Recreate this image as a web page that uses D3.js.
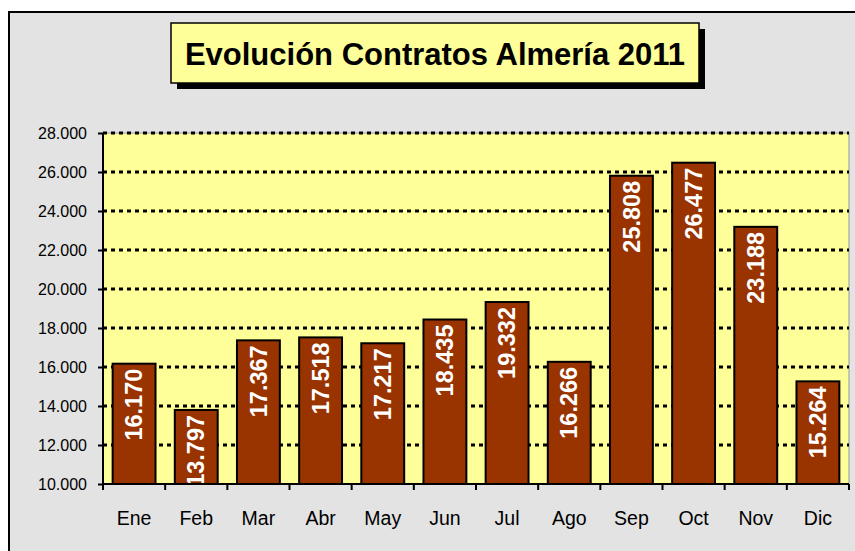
<!DOCTYPE html>
<html lang="es">
<head>
<meta charset="UTF-8">
<title>Evolución Contratos Almería 2011</title>
<script src="https://d3js.org/d3.v7.min.js"></script>
<style>
  body { margin: 0; background: #fff; }
  svg { display: block; font-family: "Liberation Sans", Arial, sans-serif; }
  .axis path { display: none; }
  .axis line { stroke: #000; }
  .y.axis text { font-size: 16px; fill: #000; }
  .x.axis text { font-size: 19.5px; fill: #000; }
  .grid line { stroke: #000; stroke-width: 3; stroke-dasharray: 4,4; }
  .bar { fill: #993300; stroke: #000; stroke-width: 2; }
  .label { fill: #fff; font-size: 23.5px; font-weight: bold; }
</style>
</head>
<body>
<script>

var months = ["Ene", "Feb", "Mar", "Abr", "May", "Jun", "Jul", "Ago", "Sep", "Oct", "Nov", "Dic"];
var contratos = [16170, 13797, 17367, 17518, 17217, 18435, 19332, 16266, 25808, 26477, 23188, 15264];
var yTicks = [10000, 12000, 14000, 16000, 18000, 20000, 22000, 24000, 26000, 28000];
var title = "Evolución Contratos Almería 2011";

var W = 855, H = 551;
var margin = {top: 133, right: 6, bottom: 67, left: 103},
    width = W - margin.left - margin.right,
    height = H - margin.top - margin.bottom;

var es = d3.formatLocale({decimal: ",", thousands: ".", grouping: [3], currency: ["", "€"]});
var fmt = es.format(",.0f");

var svg = d3.select("body").append("svg")
    .attr("width", W)
    .attr("height", H);

// outer frame (runs off the right and bottom edges)
svg.append("rect")
    .attr("x", 9).attr("y", 12)
    .attr("width", W + 10).attr("height", H + 10)
    .attr("fill", "#e3e3e3")
    .attr("stroke", "#000")
    .attr("stroke-width", 2);

// title box with shadow
var tb = {x: 171, y: 23, w: 528, h: 60};
svg.append("rect")
    .attr("x", tb.x + 6).attr("y", tb.y + 6)
    .attr("width", tb.w).attr("height", tb.h)
    .attr("fill", "#000");
svg.append("rect")
    .attr("x", tb.x).attr("y", tb.y)
    .attr("width", tb.w).attr("height", tb.h)
    .attr("fill", "#ffff99")
    .attr("stroke", "#000")
    .attr("stroke-width", 1.5);
svg.append("text")
    .attr("x", tb.x + tb.w / 2)
    .attr("y", 65)
    .attr("text-anchor", "middle")
    .style("font-size", "31px")
    .style("font-weight", "bold")
    .text(title);

var g = svg.append("g")
    .attr("transform", "translate(" + margin.left + "," + margin.top + ")");

var x = d3.scaleBand().domain(months).range([0, width]).paddingInner(0.31).paddingOuter(0.155);
var y = d3.scaleLinear().domain([10000, 28000]).range([height, 0]);

// plot background
g.append("rect")
    .attr("width", width).attr("height", height)
    .attr("fill", "#ffff99")
    .attr("stroke", "#999")
    .attr("stroke-width", 1);

// dotted gridlines
g.append("g")
    .attr("class", "grid")
    .selectAll("line")
    .data(yTicks.slice(1))
    .enter().append("line")
    .attr("x1", 0).attr("x2", width)
    .attr("y1", function(d) { return y(d); })
    .attr("y2", function(d) { return y(d); });

var data = months.map(function(m, i) { return {month: m, value: contratos[i]}; });

g.selectAll(".bar")
    .data(data)
    .enter().append("rect")
    .attr("class", "bar")
    .attr("x", function(d) { return x(d.month); })
    .attr("width", x.bandwidth())
    .attr("y", function(d) { return y(d.value); })
    .attr("height", function(d) { return height - y(d.value); });

g.selectAll(".label")
    .data(data)
    .enter().append("text")
    .attr("class", "label")
    .attr("text-anchor", "end")
    .attr("dy", "0.35em")
    .attr("transform", function(d) {
        return "translate(" + (x(d.month) + x.bandwidth() / 2) + "," + (y(d.value) + 5) + ") rotate(-90)";
    })
    .text(function(d) { return fmt(d.value); });

// y axis
g.append("g")
    .attr("class", "y axis")
    .call(d3.axisLeft(y).tickValues(yTicks).tickFormat(fmt).tickSize(5).tickPadding(11))
    .selectAll("line").attr("stroke-width", 2);

// x axis labels
g.append("g")
    .attr("class", "x axis")
    .attr("transform", "translate(0," + height + ")")
    .call(d3.axisBottom(x).tickSize(0).tickPadding(27));

// x ticks at band boundaries
var bounds = d3.range(months.length + 1).map(function(i) { return x.range()[0] + i * x.step(); });
g.append("g")
    .selectAll("line")
    .data(bounds)
    .enter().append("line")
    .attr("x1", function(d) { return d; }).attr("x2", function(d) { return d; })
    .attr("y1", height).attr("y2", height + 6)
    .attr("stroke", "#000").attr("stroke-width", 2);

// axis lines
g.append("line")
    .attr("x1", 0).attr("x2", 0).attr("y1", 0).attr("y2", height)
    .attr("stroke", "#000").attr("stroke-width", 2);
g.append("line")
    .attr("x1", 0).attr("x2", width).attr("y1", height).attr("y2", height)
    .attr("stroke", "#000").attr("stroke-width", 2);

</script>
</body>
</html>
